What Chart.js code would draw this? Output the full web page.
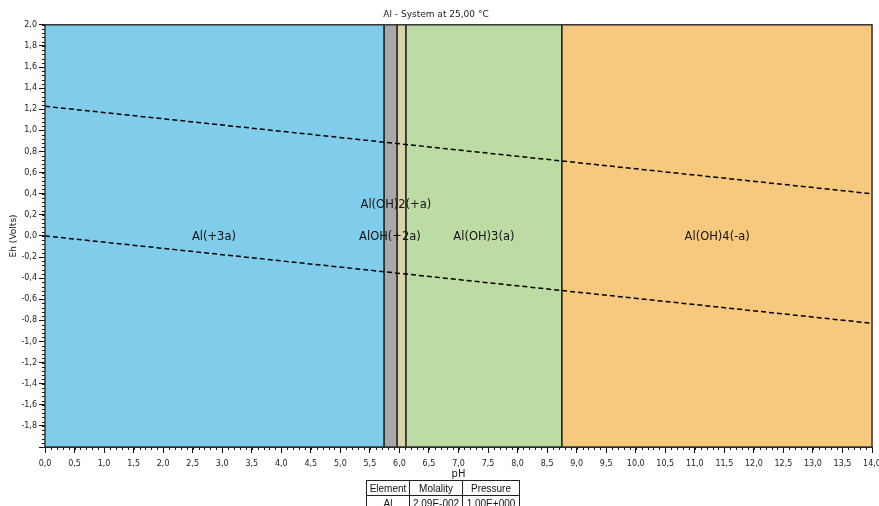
<!DOCTYPE html>
<html>
<head>
<meta charset="utf-8">
<script src="https://cdn.jsdelivr.net/npm/chart.js@4.4.1/dist/chart.umd.min.js"></script>
<style>
  html, body { margin: 0; padding: 0; background: #fff; }
  #wrap { position: relative; width: 879px; height: 506px; overflow: hidden; }
  #cond {
    position: absolute; left: 366px; top: 480px;
    border-collapse: collapse;
    font: 10px "Liberation Sans", Arial, sans-serif; color: #111;
  }
  #cond td { border: 1px solid #222; text-align: center; height: 14px; padding: 0; }
</style>
</head>
<body>
<div id="wrap">
  <canvas id="pourbaix" width="879" height="506"></canvas>
  <table id="cond">
    <tr><td style="width:42px">Element</td><td style="width:52px">Molality</td><td style="width:56px">Pressure</td></tr>
    <tr><td>Al</td><td>2,09E-002</td><td>1,00E+000</td></tr>
  </table>
</div>
<script>
// Stability fields (pH ranges), Eh spans the whole axis
const fieldNames  = ['Al(+3a)', 'AlOH(+2a)', 'Al(OH)2(+a)', 'Al(OH)3(a)', 'Al(OH)4(-a)'];
const fieldPhFrom = [0.0, 5.74, 5.96, 6.11, 8.75];
const fieldPhTo   = [5.74, 5.96, 6.11, 8.75, 14.0];

// Vertical field boundaries
const boundaryPh = [5.74, 5.96, 6.11, 8.75];

// Label anchors (pH, Eh)
const labelPh = [2.86, 5.84, 5.94, 7.43, 11.38];
const labelEh = [-0.01, -0.01, 0.29, -0.01, -0.01];

// Water stability lines
const waterPh    = [0.0, 14.0];
const upperWater = [1.228, 0.399];
const lowerWater = [0.0, -0.828];

const EH_MIN = -2.0, EH_MAX = 2.0;
const PH_MIN = 0.0,  PH_MAX = 14.0;

const FIELD_COLORS = ['#7fcdea', '#a8a8a8', '#d9d4aa', '#bcdca4', '#f7c97f'];
const FONT = "'DejaVu Sans', Verdana, sans-serif";

const fmt = v => (Math.abs(v) < 1e-9 ? 0 : v).toFixed(1).replace('.', ',');

const datasets = [];

fieldNames.forEach((name, i) => {
  datasets.push({
    label: name,
    data: [{ x: fieldPhFrom[i], y: EH_MAX }, { x: fieldPhTo[i], y: EH_MAX }],
    backgroundColor: FIELD_COLORS[i],
    borderWidth: 0,
    pointRadius: 0,
    fill: 'start',
    order: 3,
  });
});

boundaryPh.forEach(ph => {
  datasets.push({
    data: [{ x: ph, y: EH_MIN }, { x: ph, y: EH_MAX }],
    borderColor: '#1e1e1e',
    borderWidth: 1.6,
    pointRadius: 0,
    fill: false,
    order: 2,
  });
});

[upperWater, lowerWater].forEach(line => {
  datasets.push({
    data: waterPh.map((ph, i) => ({ x: ph, y: line[i] })),
    borderColor: '#000',
    borderWidth: 1.5,
    borderDash: [5, 3],
    pointRadius: 0,
    fill: false,
    order: 1,
  });
});

// minor ticks, plot frame and field labels
const extras = {
  id: 'extras',
  afterDraw(chart) {
    const { ctx, chartArea: a, scales: { x, y } } = chart;
    ctx.save();
    ctx.strokeStyle = '#111';
    ctx.lineWidth = 1;
    ctx.beginPath();
    for (let k = 0; k <= 140; k++) {
      const px = Math.round(x.getPixelForValue(k / 10)) + 0.5;
      ctx.moveTo(px, a.bottom);
      ctx.lineTo(px, a.bottom + 3);
    }
    for (let k = 0; k <= 100; k++) {
      const py = Math.round(y.getPixelForValue(EH_MIN + k * 0.04)) + 0.5;
      ctx.moveTo(a.left - 3, py);
      ctx.lineTo(a.left, py);
    }
    ctx.stroke();

    ctx.strokeStyle = '#333';
    ctx.lineWidth = 1.5;
    ctx.strokeRect(a.left, a.top, a.right - a.left, a.bottom - a.top);

    ctx.fillStyle = '#111';
    ctx.font = '11.5px ' + FONT;
    ctx.textAlign = 'center';
    ctx.textBaseline = 'middle';
    fieldNames.forEach((name, i) => {
      ctx.fillText(name, x.getPixelForValue(labelPh[i]), y.getPixelForValue(labelEh[i]));
    });
    ctx.restore();
  },
};

new Chart(document.getElementById('pourbaix'), {
  type: 'line',
  data: { datasets },
  plugins: [extras],
  options: {
    responsive: false,
    animation: false,
    layout: { padding: { right: 7 } },
    plugins: {
      legend: { display: false },
      tooltip: { enabled: false },
      title: {
        display: true,
        text: 'Al - System at 25,00 °C',
        color: '#222',
        font: { family: FONT, size: 9, weight: 'normal' },
        padding: { top: 9, bottom: 5 },
      },
    },
    scales: {
      x: {
        type: 'linear',
        min: PH_MIN,
        max: PH_MAX,
        z: 1,
        afterFit: s => { s.height = 59; s.paddingRight = 0; },
        ticks: {
          stepSize: 0.5,
          color: '#222',
          padding: 6,
          maxRotation: 0,
          autoSkip: false,
          font: { family: FONT, size: 8 },
          callback: v => fmt(v),
        },
        grid: {
          color: 'rgba(0,0,0,0.18)',
          tickColor: '#111',
          tickLength: 6,
        },
        border: { color: '#111', width: 1, dash: [2, 2] },
        title: {
          display: true,
          text: 'pH',
          color: '#222',
          font: { family: FONT, size: 10 },
          padding: { top: 0, bottom: 26 },
        },
      },
      y: {
        type: 'linear',
        min: EH_MIN,
        max: EH_MAX,
        z: 1,
        afterFit: s => { s.width = 45; },
        ticks: {
          stepSize: 0.2,
          color: '#222',
          padding: 2,
          autoSkip: false,
          font: { family: FONT, size: 8 },
          callback: v => (v <= EH_MIN + 1e-9 ? '' : fmt(v)),
        },
        grid: {
          color: 'rgba(0,0,0,0.18)',
          tickColor: '#111',
          tickLength: 6,
        },
        border: { color: '#111', width: 1, dash: [2, 2] },
        title: {
          display: true,
          text: 'Eh (Volts)',
          color: '#222',
          font: { family: FONT, size: 9 },
          padding: { top: 8, bottom: 0 },
        },
      },
    },
  },
});
</script>
</body>
</html>
